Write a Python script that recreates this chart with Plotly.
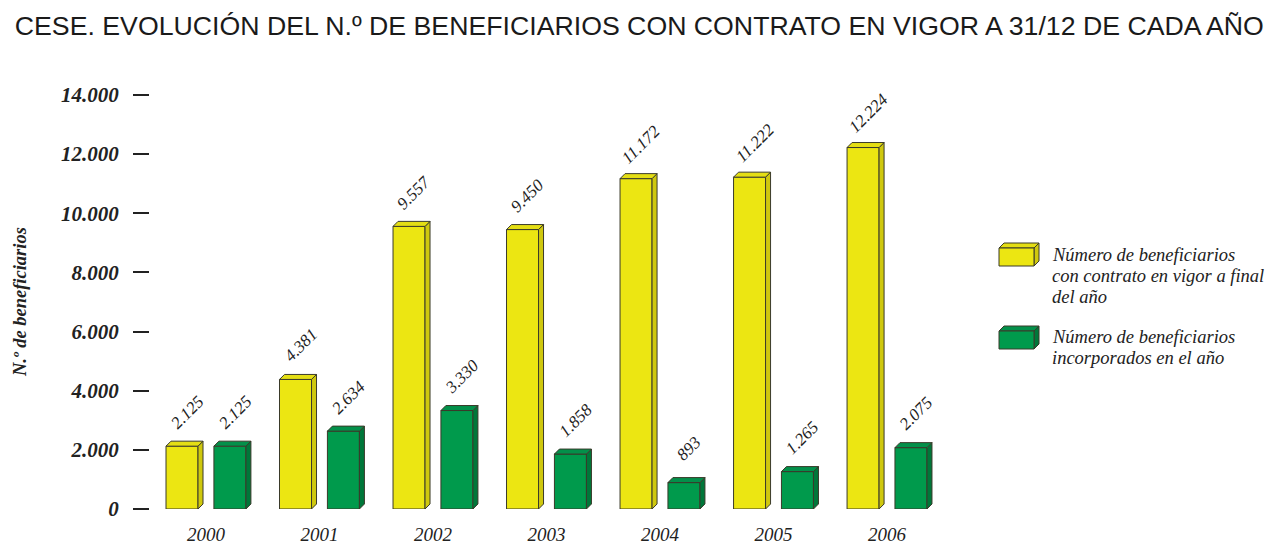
import plotly.graph_objects as go

years = ["2000", "2001", "2002", "2003", "2004", "2005", "2006"]
contrato_vigor = [2125, 4381, 9557, 9450, 11172, 11222, 12224]
incorporados = [2125, 2634, 3330, 1858, 893, 1265, 2075]
value_labels_a = ["2.125", "4.381", "9.557", "9.450", "11.172", "11.222", "12.224"]
value_labels_b = ["2.125", "2.634", "3.330", "1.858", "893", "1.265", "2.075"]
ytick_vals = [0, 2000, 4000, 6000, 8000, 10000, 12000, 14000]
ytick_text = ["0", "2.000", "4.000", "6.000", "8.000", "10.000", "12.000", "14.000"]
legend_a = ["Número de beneficiarios", "con contrato en vigor a final", "del año"]
legend_b = ["Número de beneficiarios", "incorporados en el año"]
title = "CESE. EVOLUCIÓN DEL N.º DE BENEFICIARIOS CON CONTRATO EN VIGOR A 31/12 DE CADA AÑO"

W, H = 1271, 545
ML, MR, MT, MB = 150, 311, 95, 36
PW, PH = W - ML - MR, H - MT - MB
XR = [-0.493, 6.643]
YR = [0, 14000]
px_per_x = PW / (XR[1] - XR[0])
px_per_y = PH / (YR[1] - YR[0])

YEL, YEL_SIDE, YEL_TOP = "#ECE612", "#CFC80E", "#E4DE14"
GRN, GRN_SIDE, GRN_TOP = "#009A4C", "#00773A", "#03904A"
EDGE = "#3a3a2a"
SERIF = "Liberation Serif, Times New Roman, serif"

bar_w = 0.282
off_a, off_b = -0.352, 0.070
dx = 5 / px_per_x
dy = 5 / px_per_y

xs = list(range(len(years)))
fig = go.Figure()


def add_series(vals, off, front, side, top):
    fig.add_trace(go.Bar(x=xs, y=vals, offset=off, width=bar_w,
                         marker=dict(color=front, line=dict(color=EDGE, width=1)),
                         showlegend=False, hoverinfo="skip"))
    sx, sy, tx, ty = [], [], [], []
    for i, v in zip(xs, vals):
        x0 = i + off
        x1 = x0 + bar_w
        sx += [x1, x1 + dx, x1 + dx, x1, x1, None]
        sy += [0, dy, v + dy, v, 0, None]
        tx += [x0, x0 + dx, x1 + dx, x1, x0, None]
        ty += [v, v + dy, v + dy, v, v, None]
    for X, Y, c in ((sx, sy, side), (tx, ty, top)):
        fig.add_trace(go.Scatter(x=X, y=Y, mode="lines", fill="toself", fillcolor=c,
                                 line=dict(color=EDGE, width=1), showlegend=False,
                                 hoverinfo="skip"))


add_series(contrato_vigor, off_a, YEL, YEL_SIDE, YEL_TOP)
add_series(incorporados, off_b, GRN, GRN_SIDE, GRN_TOP)

annotations = []
for vals, labs, off in ((contrato_vigor, value_labels_a, off_a), (incorporados, value_labels_b, off_b)):
    for i, v, t in zip(xs, vals, labs):
        annotations.append(dict(x=i + off + bar_w / 2, y=v, xref="x", yref="y", text=t,
                                showarrow=False, textangle=-45, yshift=34, xshift=5,
                                font=dict(family=SERIF, size=17, style="italic", color="#222")))


def px(x):
    return (x - ML) / PW


def py(y):
    return (H - MB - y) / PH


shapes = []


def legend_box(x0, y0, front, side, top):
    w, h, d = 35, 18, 5
    shapes.append(dict(type="path", xref="paper", yref="paper",
                       path=f"M{px(x0)},{py(y0)} L{px(x0 + d)},{py(y0 - d)} L{px(x0 + w + d)},{py(y0 - d)} L{px(x0 + w)},{py(y0)} Z",
                       fillcolor=top, line=dict(color=EDGE, width=1)))
    shapes.append(dict(type="path", xref="paper", yref="paper",
                       path=f"M{px(x0 + w)},{py(y0)} L{px(x0 + w + d)},{py(y0 - d)} L{px(x0 + w + d)},{py(y0 + h - d)} L{px(x0 + w)},{py(y0 + h)} Z",
                       fillcolor=side, line=dict(color=EDGE, width=1)))
    shapes.append(dict(type="rect", xref="paper", yref="paper",
                       x0=px(x0), x1=px(x0 + w), y0=py(y0 + h), y1=py(y0),
                       fillcolor=front, line=dict(color=EDGE, width=1)))


legend_box(999, 248, YEL, YEL_SIDE, YEL_TOP)
legend_box(999, 331, GRN, GRN_SIDE, GRN_TOP)

for lines, y0 in ((legend_a, 255), (legend_b, 337)):
    for k, t in enumerate(lines):
        annotations.append(dict(x=px(1050), y=py(y0 + 21 * k), xref="paper", yref="paper",
                                xanchor="left", yanchor="middle", text=t, showarrow=False,
                                font=dict(family=SERIF, size=18.5, style="italic", color="#222")))

annotations.append(dict(x=px(8), y=py(302), xref="paper", yref="paper", text="N.º de beneficiarios",
                        textangle=-90, showarrow=False,
                        font=dict(family=SERIF, size=18.5, style="italic", weight="bold", color="#222")))

fig.update_layout(
    width=W, height=H,
    margin=dict(l=ML, r=MR, t=MT, b=MB, autoexpand=False),
    paper_bgcolor="white", plot_bgcolor="white",
    barmode="overlay",
    showlegend=False,
    title=dict(text=title, xref="container", x=0.503, xanchor="center", yref="container",
               y=0.953, yanchor="middle",
               font=dict(family="Liberation Sans, Arial, sans-serif", size=26.7, color="#1a1a1a")),
    xaxis=dict(range=XR, tickvals=xs, ticktext=years, showgrid=False, zeroline=False,
               showline=False, ticks="", ticklabelstandoff=12,
               tickfont=dict(family=SERIF, size=19, style="italic", color="#222")),
    yaxis=dict(range=YR, tickvals=ytick_vals, ticktext=ytick_text, showgrid=False,
               zeroline=False, showline=False, ticks="outside", ticklen=16, tickwidth=1.5,
               tickcolor="#222", ticklabelstandoff=10,
               tickfont=dict(family=SERIF, size=21, style="italic", weight="bold", color="#222")),
    annotations=annotations,
    shapes=shapes,
)

fig.write_html("out.html", config={"displayModeBar": False},
               post_script="document.body.style.margin='0';document.body.style.overflow='hidden';")
